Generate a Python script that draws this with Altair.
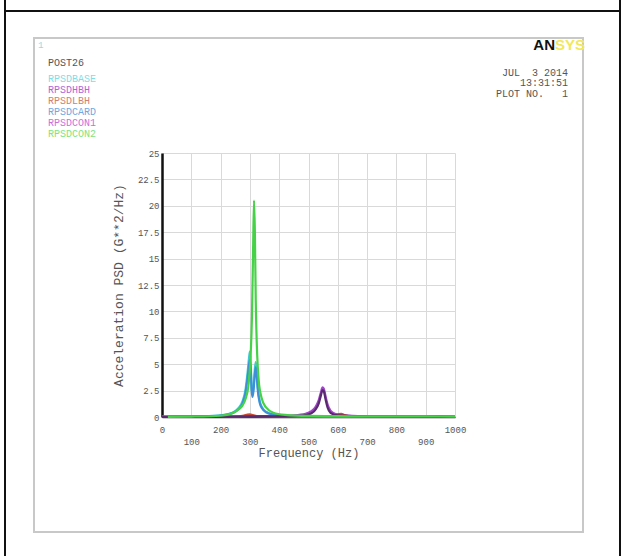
import altair as alt
import pandas as pd

# ---------------- data ----------------
SERIES_NAMES = ["RPSDBASE", "RPSDHBH", "RPSDLBH", "RPSDCARD", "RPSDCON1", "RPSDCON2"]
LINE_COLORS = ["#3FC9D6", "#A044C8", "#C84A34", "#3F8FD8", "#5A2A6E", "#46D246"]
LEGEND_COLORS = ["#7FDDE6", "#B266D6", "#CF8270", "#74A6DF", "#CC6FDC", "#7FE37F"]

BASE_F = [0, 50, 100, 150, 200, 240, 260, 275, 285, 292, 297, 300, 303, 306, 309,
          313, 317, 320, 323, 327, 333, 342, 355, 380, 420, 500, 600, 800, 1000]
BASE_V = [0.03, 0.04, 0.05, 0.08, 0.15, 0.4, 0.8, 1.5, 2.6, 4.2, 5.6, 6.2, 5.0, 2.8, 2.1,
          3.0, 4.6, 5.2, 4.4, 2.8, 1.6, 0.9, 0.5, 0.25, 0.12, 0.07, 0.05, 0.04, 0.03]

CARD_F = BASE_F
CARD_V = [0.02, 0.03, 0.04, 0.07, 0.13, 0.35, 0.7, 1.3, 2.3, 3.7, 4.9, 5.4, 4.4, 2.5, 1.9,
          2.7, 4.1, 4.7, 4.0, 2.5, 1.4, 0.8, 0.45, 0.22, 0.1, 0.06, 0.04, 0.03, 0.02]

HBH_F = [0, 200, 300, 400, 450, 490, 510, 525, 535, 542, 548, 552, 558, 565, 575, 590, 620, 700, 800, 1000]
HBH_V = [0.01, 0.03, 0.08, 0.1, 0.15, 0.3, 0.55, 1.0, 1.6, 2.3, 2.8, 2.7, 2.0, 1.2, 0.6, 0.3, 0.15, 0.07, 0.04, 0.02]

CON1_F = [0, 200, 300, 400, 480, 510, 525, 535, 542, 548, 552, 558, 565, 575, 600, 700, 1000]
CON1_V = [0.01, 0.02, 0.05, 0.06, 0.12, 0.35, 0.75, 1.3, 2.0, 2.55, 2.45, 1.7, 0.9, 0.4, 0.15, 0.05, 0.02]

LBH_F = [0, 200, 260, 280, 292, 300, 310, 330, 400, 560, 590, 603, 612, 622, 640, 700, 1000]
LBH_V = [0.01, 0.03, 0.06, 0.14, 0.24, 0.26, 0.18, 0.07, 0.03, 0.05, 0.14, 0.28, 0.3, 0.18, 0.06, 0.02, 0.01]

CON2_F = [20, 100, 200, 240, 260, 275, 285, 295, 302, 307, 311, 314, 317, 320, 325, 330,
          340, 355, 380, 420, 500, 600, 700, 800, 900, 1000]
CON2_V = [0.02, 0.04, 0.12, 0.35, 0.7, 1.1, 1.7, 3.0, 5.5, 9.5, 16.0, 20.5, 17.5, 11.0, 5.8, 3.5,
          1.8, 0.9, 0.4, 0.2, 0.1, 0.08, 0.06, 0.05, 0.05, 0.04]

X_TICKS = [0, 100, 200, 300, 400, 500, 600, 700, 800, 900, 1000]
Y_TICKS = [0, 2.5, 5, 7.5, 10, 12.5, 15, 17.5, 20, 22.5, 25]

DATA = {
    "RPSDBASE": (BASE_F, BASE_V),
    "RPSDHBH": (HBH_F, HBH_V),
    "RPSDLBH": (LBH_F, LBH_V),
    "RPSDCARD": (CARD_F, CARD_V),
    "RPSDCON1": (CON1_F, CON1_V),
    "RPSDCON2": (CON2_F, CON2_V),
}

# ---------------- layout ----------------
X0, Y0 = 162, 153          # plot origin in page pixels
W, H = 293, 264
MONO = "Liberation Mono"
NB = "\u00a0"

xs = alt.Scale(domain=[0, 1000], nice=False, zero=False)
ys = alt.Scale(domain=[0, 25], nice=False)

xaxis = alt.Axis(values=X_TICKS, format="d", title="Frequency (Hz)", ticks=False,
                 labelFont=MONO, labelFontSize=9, labelColor="#555555",
                 labelBaseline="top", labelPadding=8, labelLineHeight=12,
                 labelExpr="datum.value % 200 == 0 ? datum.label : ['', datum.label]",
                 labelFlush=False, labelOverlap=False,
                 titleFont=MONO, titleFontSize=12, titleFontWeight="normal", titleColor="#555555",
                 titleY=35, titleBaseline="middle",
                 grid=True, gridColor="#D9D9D9", gridWidth=1,
                 domainColor="#333333", domainWidth=1.5)
yaxis = alt.Axis(values=Y_TICKS, format=".1~f", title="Acceleration PSD (G**2/Hz)", ticks=False,
                 labelFont=MONO, labelFontSize=9, labelColor="#555555", labelPadding=3,
                 labelFlush=False, labelOverlap=False,
                 titleFont=MONO, titleFontSize=13, titleFontWeight="normal", titleColor="#555555",
                 titleX=-44, titleY=H / 2, titleAngle=270, titleAlign="center", titleBaseline="middle",
                 grid=True, gridColor="#D9D9D9", gridWidth=1,
                 domainColor="#111111", domainWidth=2.5)

one = alt.Data(values=[{"a": 1}])


def rule(x1, y1, x2, y2, color, width):
    return alt.Chart(one).mark_rule(color=color, strokeWidth=width).encode(
        x=alt.value(x1 - X0), x2=alt.value(x2 - X0),
        y=alt.value(y1 - Y0), y2=alt.value(y2 - Y0))


def label(txt, x, y, color, size=10, align="left", font=MONO, weight="normal"):
    return alt.Chart(one).mark_text(text=txt, color=color, fontSize=size, align=align,
                                    baseline="middle", font=font, fontWeight=weight).encode(
        x=alt.value(x - X0), y=alt.value(y - Y0))


layers = []
# outer frame
layers.append(rule(5, 0, 5, 556, "#111111", 2))
layers.append(rule(620, 0, 620, 556, "#111111", 2))
layers.append(rule(5, 11, 620, 11, "#111111", 2))
# grey window
layers.append(alt.Chart(one).mark_rect(fillOpacity=0, stroke="#C8C8C8", strokeWidth=2).encode(
    x=alt.value(34 - X0), x2=alt.value(583 - X0), y=alt.value(38 - Y0), y2=alt.value(532 - Y0)))

# curves
for name, col in zip(SERIES_NAMES, LINE_COLORS):
    f, v = DATA[name]
    df = pd.DataFrame({"f": f, "v": v})
    layers.append(alt.Chart(df).mark_line(color=col, strokeWidth=2.2, interpolate="monotone").encode(
        x=alt.X("f:Q", scale=xs, axis=xaxis),
        y=alt.Y("v:Q", scale=ys, axis=yaxis)))

# texts
layers.append(label("1", 38, 45, "#8FDDE6", 9))
layers.append(label("POST26", 48, 63, "#555555", 10))
for i, (name, col) in enumerate(zip(SERIES_NAMES, LEGEND_COLORS)):
    layers.append(label(name, 48, 79 + 11 * i, col, 10))

layers.append(label("AN", 555, 45, "#111111", 15, align="right", font="Liberation Sans", weight="bold"))
layers.append(label("SYS", 555, 45, "#F2E85A", 15, align="left", font="Liberation Sans", weight="bold"))
layers.append(label("JUL" + NB + NB + "3 2014", 568, 73, "#555555", 10, align="right"))
layers.append(label("13:31:51", 568, 83, "#555555", 10, align="right"))
layers.append(label("PLOT NO." + NB * 3 + "1", 568, 94, "#555555", 10, align="right"))

chart = alt.layer(*layers).properties(
    width=W, height=H,
    autosize=alt.AutoSizeParams(type="none"),
    padding={"left": X0, "top": Y0, "right": 622 - X0 - W, "bottom": 556 - Y0 - H},
    background="white",
).configure_view(stroke="transparent")

chart.save("out.html", embed_options={"renderer": "svg", "actions": False})
